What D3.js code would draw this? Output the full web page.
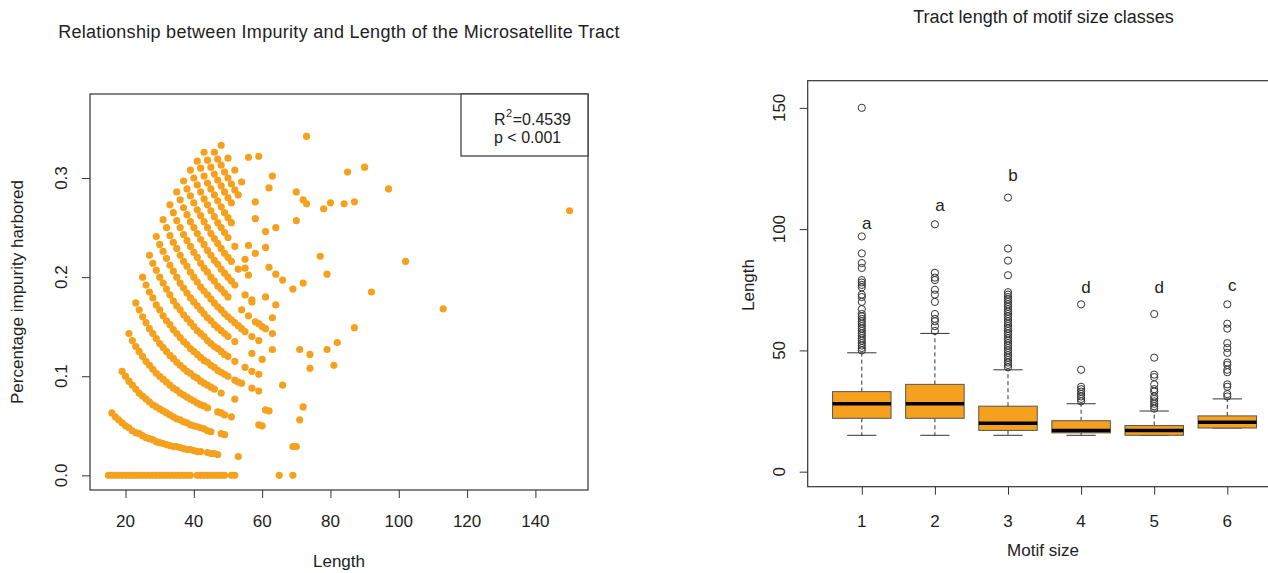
<!DOCTYPE html>
<html><head><meta charset="utf-8">
<script src="https://cdn.jsdelivr.net/npm/d3@7"></script>
<style>body{margin:0;background:#fff;} svg{display:block;font-family:"Liberation Sans",Arial,sans-serif;}</style>
</head><body><svg id="c" width="1268" height="573"></svg>
<script>
// ---------- LEFT PANEL DATA: [length, impurity] ----------
const zeroLengths = [15,16,17,18,19,20,21,22,23,24,25,26,27,28,29,30,31,32,33,34,35,36,37,38,39,41,42,43,44,45,46,47,48,49,51,52,65,69];
const arc1 = [[16,.063],[17,.059],[18,.056],[19,.053],[20,.05],[21,.048],[22,.045],[23,.043],[24,.042],[25,.04],[26,.038],[27,.037],[28,.036],[29,.034],[30,.033],[31,.032],[32,.031],[33,.03],[34,.029],[35,.029],[36,.028],[37,.027],[38,.026],[39,.026],[40,.025],[41,.024],[42,.024],[44,.023],[45,.022],[46,.022],[47,.021]];
const arc2 = [[19,.105],[20,.1],[21,.095],[22,.091],[23,.087],[24,.083],[25,.08],[26,.077],[27,.074],[28,.071],[29,.069],[30,.067],[31,.065],[32,.063],[33,.061],[34,.059],[35,.057],[36,.056],[37,.054],[38,.053],[39,.051],[40,.05],[41,.049],[42,.048],[43,.047],[44,.045],[45,.044]];
const arc3 = [[21,.143],[22,.136],[23,.13],[24,.125],[25,.12],[26,.115],[27,.111],[28,.107],[29,.103],[30,.1],[31,.097],[32,.094],[33,.091],[34,.088],[35,.086],[36,.083],[37,.081],[38,.079],[39,.077],[40,.075],[41,.073],[42,.071],[43,.07],[44,.068],[47,.064],[48,.063],[49,.061]];
const arc4 = [[23,.174],[24,.167],[25,.16],[26,.154],[27,.148],[28,.143],[29,.138],[30,.133],[31,.129],[32,.125],[33,.121],[34,.118],[35,.114],[36,.111],[37,.108],[38,.105],[39,.103],[40,.1],[41,.098],[42,.095],[43,.093],[44,.091],[45,.089],[46,.087],[48,.083]];
const arc5 = [[25,.2],[26,.192],[27,.185],[28,.179],[29,.172],[30,.167],[31,.161],[32,.156],[33,.152],[34,.147],[35,.143],[36,.139],[37,.135],[38,.132],[39,.128],[40,.125],[41,.122],[42,.119],[43,.116],[44,.114],[45,.111],[46,.109],[47,.106],[48,.104],[49,.102],[50,.1]];
const arc6 = [[27,.222],[28,.214],[29,.207],[30,.2],[31,.194],[32,.188],[33,.182],[34,.176],[35,.171],[36,.167],[37,.162],[38,.158],[39,.154],[40,.15],[41,.146],[42,.143],[43,.14],[44,.136],[45,.133],[46,.13],[47,.128],[48,.125],[49,.122],[50,.12]];
const arc7 = [[29,.241],[30,.233],[31,.226],[32,.219],[33,.212],[34,.206],[35,.2],[36,.194],[37,.189],[38,.184],[39,.179],[40,.175],[41,.171],[42,.167],[43,.163],[44,.159],[45,.156],[46,.152],[47,.149],[48,.146],[49,.143],[50,.14]];
const arc8 = [[31,.258],[32,.25],[33,.242],[34,.235],[35,.229],[36,.222],[37,.216],[38,.211],[39,.205],[40,.2],[41,.195],[42,.19],[43,.186],[44,.182],[45,.178],[46,.174],[47,.17],[48,.167],[49,.163],[50,.16],[51,.157],[52,.154],[53,.151],[54,.148],[55,.145]];
const arc9 = [[33,.273],[34,.265],[35,.257],[36,.25],[37,.243],[38,.237],[39,.231],[40,.225],[41,.22],[42,.214],[43,.209],[44,.205],[45,.2],[46,.196],[47,.191],[48,.188],[49,.184],[50,.18]];
const arc10 = [[35,.286],[36,.278],[37,.27],[38,.263],[39,.256],[40,.25],[41,.244],[42,.238],[43,.233],[44,.227],[45,.222],[46,.217],[47,.213],[48,.208],[49,.204],[50,.2],[51,.196],[52,.192]];
const arc11 = [[37,.297],[38,.289],[39,.282],[40,.275],[41,.268],[42,.262],[43,.256],[44,.25],[45,.244],[46,.239],[47,.234],[48,.229],[49,.224],[50,.22],[51,.216]];
const arc12 = [[39,.308],[40,.3],[41,.293],[42,.286],[43,.279],[44,.273],[45,.267],[46,.261],[47,.255],[48,.25],[49,.245],[50,.24]];
const arc13 = [[41,.317],[42,.31],[43,.302],[44,.295],[45,.289],[46,.283],[47,.277],[48,.271],[49,.265],[50,.26],[51,.255]];
const arc14 = [[43,.326],[44,.318],[45,.311],[46,.304],[47,.298],[48,.292],[49,.286],[50,.28],[51,.275]];
const arc15 = [[46,.326],[47,.319],[48,.313],[49,.306],[50,.3],[51,.294],[52,.288],[53,.283]];
const arc16 = [[48,.333],[50,.32]];
const scatteredPts = [[53,.019],[48,.042],[49,.041],[51,.059],[52,.077],[59,.051],[60,.05],[61,.066],[62,.065],[71,.056],[72,.069],[69,.029],[70,.029],
  [52,.096],[53,.094],[54,.093],[57,.088],[59,.085],[66,.091],[52,.115],[55,.109],[57,.105],[59,.102],[52,.135],[57,.123],[60,.117],[57,.14],[59,.136],
  [63,.127],[74,.108],[54,.167],[56,.161],[58,.155],[59,.153],[60,.15],[61,.148],[63,.143],[71,.127],[74,.122],[81,.111],[55,.182],[57,.175],[79,.127],
  [53,.208],[61,.18],[64,.172],[82,.134],[52,.231],[55,.218],[56,.232],[58,.224],[62,.21],[64,.203],[66,.197],[87,.149],[61,.23],[72,.194],[52,.308],
  [54,.296],[73,.342],[56,.321],[59,.322],[63,.302],[62,.29],[70,.286],[72,.278],[73,.274],[80,.275],[78,.269],[84,.274],[87,.276],[85,.306],[90,.311],
  [97,.289],[150,.267],[58,.276],[58,.259],[61,.246],[64,.25],[70,.257],[77,.221],[79,.203],[69,.188],[102,.216],[92,.185],[113,.168],[63,.159],
  [55,.209],[56,.202],[57,.177]];
const lengthTicks = [20,40,60,80,100,120,140];
const impurityTicks = [0,0.1,0.2,0.3];
const impurityTickLabels = ["0.0","0.1","0.2","0.3"];
const fitR2 = "0.4539";
const fitP = "0.001";

// ---------- RIGHT PANEL DATA ----------
const motifSizes = [1,2,3,4,5,6];
const whiskLow = [15,15,15,15,15,18];
const boxQ1 = [22,22,17,16,15,18];
const boxMedian = [28,28,20,17,17,20.4];
const boxQ3 = [33,36,27,21,19,23];
const whiskHigh = [49,57,42,28,25,30];
const outliers1 = [50,51,52,53,54,55,56,57,58,59,60,61,62,63,64,65,67,70,72,73,76,77,78,79,84,86,90,97,150];
const outliers2 = [58,60,62,63,65,70,73,75,79,80,82,102];
const outliers3 = [43,44,45,46,47,48,49,50,51,52,53,54,55,56,57,58,59,60,61,62,63,64,65,66,67,68,69,70,71,72,73,74,81,87,92,113];
const outliers4 = [29,30,31,32,33,34,35,42,69];
const outliers5 = [26,27,28,29,30,31,33,34,36,39,40,47,65];
const outliers6 = [31,32,35,36,41,42,44,45,49,51,53,59,61,69];
const groupLetters = ["a","a","b","d","d","c"];
const letterHeights = [100,107.5,120,73.5,73.5,74.5];
const lengthTicksR = [0,50,100,150];

// ---------- DRAW ----------
const svg = d3.select("#c");
const ORANGE = "#F6A11D", TXT = "#222", LINE = "#333", FS = 17;

// Left panel
const xL = d3.scaleLinear().domain([9.6,155.4]).range([90,588]);
const yL = d3.scaleLinear().domain([-0.0148,0.3848]).range([490,94]);
const arcs = [arc1,arc2,arc3,arc4,arc5,arc6,arc7,arc8,arc9,arc10,arc11,arc12,arc13,arc14,arc15,arc16];
const pts = [].concat(zeroLengths.map(l=>[l,0]), ...arcs, scatteredPts);
const gL = svg.append("g");
gL.selectAll("circle").data(pts).join("circle")
  .attr("cx",d=>xL(d[0])).attr("cy",d=>yL(d[1])).attr("r",3.6).attr("fill",ORANGE);
gL.append("rect").attr("x",90).attr("y",94).attr("width",498).attr("height",396)
  .attr("fill","none").attr("stroke",LINE).attr("stroke-width",1.2);

const axB = gL.append("g").attr("transform","translate(0,490)")
  .call(d3.axisBottom(xL).tickValues(lengthTicks).tickSize(8).tickFormat(""));
axB.select(".domain").remove();
axB.selectAll("line").attr("stroke",LINE);
gL.selectAll(".xlab").data(lengthTicks).join("text").attr("class","xlab")
  .attr("x",d=>xL(d)).attr("y",527).attr("text-anchor","middle").attr("font-size",FS).attr("fill",TXT).text(d=>d);
const axLft = gL.append("g").attr("transform","translate(90,0)")
  .call(d3.axisLeft(yL).tickValues(impurityTicks).tickSize(8).tickFormat(""));
axLft.select(".domain").remove();
axLft.selectAll("line").attr("stroke",LINE);
gL.selectAll(".ylab").data(impurityTicks).join("text").attr("class","ylab")
  .attr("transform",(d)=>`translate(67,${yL(d)}) rotate(-90)`).attr("text-anchor","middle")
  .attr("font-size",FS).attr("fill",TXT).text((d,i)=>impurityTickLabels[i]);

// legend box
const LFS = 16;
gL.append("rect").attr("x",461).attr("y",94).attr("width",127).attr("height",62)
  .attr("fill","#fff").attr("stroke",LINE).attr("stroke-width",1.2);
const rT = gL.append("text").attr("x",494).attr("y",124.5).attr("font-size",LFS).attr("fill",TXT).text("R");
const rW = rT.node().getComputedTextLength();
const sT = gL.append("text").attr("x",494+rW+0.5).attr("y",117).attr("font-size",11).attr("fill",TXT).text("2");
const sW = sT.node().getComputedTextLength();
gL.append("text").attr("x",494+rW+sW+1).attr("y",124.5).attr("font-size",LFS).attr("fill",TXT).text("=" + fitR2);
gL.append("text").attr("x",494).attr("y",143).attr("font-size",LFS).attr("fill",TXT).text("p < " + fitP);

gL.append("text").attr("x",339).attr("y",38).attr("text-anchor","middle").attr("font-size",18)
  .attr("letter-spacing","0.3px").attr("fill",TXT)
  .text("Relationship between Impurity and Length of the Microsatellite Tract");
gL.append("text").attr("x",339).attr("y",567).attr("text-anchor","middle").attr("font-size",FS).attr("fill",TXT).text("Length");
gL.append("text").attr("transform","translate(23,292) rotate(-90)").attr("text-anchor","middle").attr("font-size",FS).attr("fill",TXT)
  .text("Percentage impurity harbored");

// Right panel
const xR = d3.scaleLinear().domain([0.26,6.74]).range([807.7,1281.4]);
const yR = d3.scaleLinear().domain([-6.2,161.2]).range([486.7,80.7]);
const gR = svg.append("g");
const bw = xR(0.4) - xR(0);   // half box width
const cw = xR(0.2) - xR(0);   // half cap width
const outs = [outliers1,outliers2,outliers3,outliers4,outliers5,outliers6];
motifSizes.forEach((m,i)=>{
  const cx = xR(m);
  gR.append("line").attr("x1",cx).attr("x2",cx).attr("y1",yR(boxQ3[i])).attr("y2",yR(whiskHigh[i]))
    .attr("stroke",LINE).attr("stroke-dasharray","4,3");
  gR.append("line").attr("x1",cx).attr("x2",cx).attr("y1",yR(boxQ1[i])).attr("y2",yR(whiskLow[i]))
    .attr("stroke",LINE).attr("stroke-dasharray","4,3");
  [whiskHigh[i],whiskLow[i]].forEach(v=>gR.append("line").attr("x1",cx-cw).attr("x2",cx+cw)
    .attr("y1",yR(v)).attr("y2",yR(v)).attr("stroke",LINE));
  gR.append("rect").attr("x",cx-bw).attr("width",2*bw).attr("y",yR(boxQ3[i]))
    .attr("height",yR(boxQ1[i])-yR(boxQ3[i])).attr("fill",ORANGE).attr("stroke","#555");
  gR.append("line").attr("x1",cx-bw).attr("x2",cx+bw).attr("y1",yR(boxMedian[i])).attr("y2",yR(boxMedian[i]))
    .attr("stroke","#000").attr("stroke-width",3.5);
  gR.selectAll(null).data(outs[i]).join("circle").attr("cx",cx).attr("cy",d=>yR(d)).attr("r",3.6)
    .attr("fill","none").attr("stroke",LINE).attr("stroke-width",1);
  gR.append("text").attr("x",cx+5).attr("y",yR(letterHeights[i])).attr("text-anchor","middle")
    .attr("font-size",FS).attr("fill",TXT).text(groupLetters[i]);
});
gR.append("rect").attr("x",807.7).attr("y",80.7).attr("width",1281.4-807.7).attr("height",406)
  .attr("fill","none").attr("stroke",LINE).attr("stroke-width",1.2);
const axRB = gR.append("g").attr("transform","translate(0,486.7)")
  .call(d3.axisBottom(xR).tickValues(motifSizes).tickSize(8).tickFormat(""));
axRB.select(".domain").remove();
axRB.selectAll("line").attr("stroke",LINE);
gR.selectAll(".xlabR").data(motifSizes).join("text").attr("class","xlabR")
  .attr("x",d=>xR(d)).attr("y",527).attr("text-anchor","middle").attr("font-size",FS).attr("fill",TXT).text(d=>d);
const axRL = gR.append("g").attr("transform","translate(807.7,0)")
  .call(d3.axisLeft(yR).tickValues(lengthTicksR).tickSize(8).tickFormat(""));
axRL.select(".domain").remove();
axRL.selectAll("line").attr("stroke",LINE);
gR.selectAll(".ylabR").data(lengthTicksR).join("text").attr("class","ylabR")
  .attr("transform",d=>`translate(785,${yR(d)}) rotate(-90)`).attr("text-anchor","middle")
  .attr("font-size",FS).attr("fill",TXT).text(d=>d);
gR.append("text").attr("x",1043.5).attr("y",22.5).attr("text-anchor","middle").attr("font-size",18).attr("fill",TXT)
  .text("Tract length of motif size classes");
gR.append("text").attr("x",1043).attr("y",556).attr("text-anchor","middle").attr("font-size",FS).attr("fill",TXT).text("Motif size");
gR.append("text").attr("transform","translate(754,285) rotate(-90)").attr("text-anchor","middle").attr("font-size",FS).attr("fill",TXT).text("Length");
</script></body></html>
